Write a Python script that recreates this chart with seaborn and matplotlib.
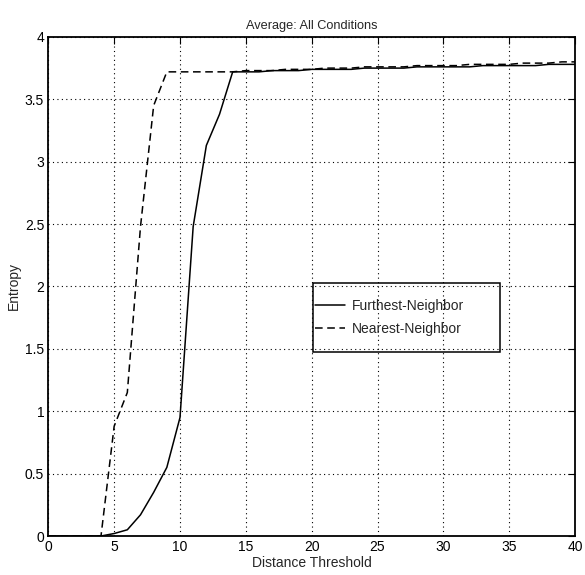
import matplotlib
matplotlib.use("Agg")
import matplotlib.pyplot as plt
from matplotlib.patches import Rectangle
import seaborn as sns
import pandas as pd

threshold = list(range(0, 41))
furthest = [0, 0, 0, 0, 0, 0.02, 0.05, 0.17, 0.35, 0.55, 0.95, 2.48, 3.13, 3.38, 3.72,
            3.72, 3.72, 3.73, 3.73, 3.73, 3.74, 3.74, 3.74, 3.74, 3.75, 3.75, 3.75,
            3.75, 3.76, 3.76, 3.76, 3.76, 3.76, 3.77, 3.77, 3.77, 3.77, 3.77, 3.78,
            3.78, 3.78]
nearest = [0, 0, 0, 0, 0, 0.88, 1.15, 2.48, 3.45, 3.72, 3.72, 3.72, 3.72, 3.72, 3.72,
           3.73, 3.73, 3.73, 3.74, 3.74, 3.74, 3.75, 3.75, 3.75, 3.76, 3.76, 3.76,
           3.76, 3.77, 3.77, 3.77, 3.77, 3.78, 3.78, 3.78, 3.78, 3.79, 3.79, 3.79,
           3.80, 3.80]
series_names = ["Furthest-Neighbor", "Nearest-Neighbor"]
xticks = [0, 5, 10, 15, 20, 25, 30, 35, 40]
yticks = [0, 0.5, 1, 1.5, 2, 2.5, 3, 3.5, 4]
ytick_labels = ["0", "0.5", "1", "1.5", "2", "2.5", "3", "3.5", "4"]

sns.set_style("white")
plt.rcParams['font.family'] = ['Liberation Sans', 'DejaVu Sans']
plt.rcParams['font.size'] = 10

df = pd.DataFrame({
    "Distance Threshold": threshold * 2,
    "Entropy": furthest + nearest,
    "Method": [series_names[0]] * len(threshold) + [series_names[1]] * len(threshold),
})

fig = plt.figure(figsize=(5.85, 5.75), dpi=100)
ax = fig.add_axes([0.0826, 0.0678, 0.9004, 0.868])

sns.lineplot(data=df, x="Distance Threshold", y="Entropy", style="Method",
             style_order=series_names, dashes={series_names[0]: "", series_names[1]: (5, 3)},
             color="black", linewidth=1.1, ax=ax, estimator=None, sort=False)

ax.set_xlim(0, 40)
ax.set_ylim(0, 4)
ax.set_xticks(xticks)
ax.set_xticklabels([str(t) for t in xticks])
ax.set_yticks(yticks)
ax.set_yticklabels(ytick_labels)
ax.grid(True, linestyle=(0, (1, 3)), color="black", linewidth=0.8)
ax.tick_params(direction="in", length=5, top=True, right=True, labelsize=10, pad=3,
               colors="black", width=0.8)
for s in ax.spines.values():
    s.set_color("black")
    s.set_linewidth(1.3)
ax.set_xlabel("Distance Threshold", fontsize=10, labelpad=1)
ax.set_ylabel("Entropy", fontsize=10, labelpad=3)
ax.set_title("Average: All Conditions", fontsize=9.2, pad=6)

leg_x0, leg_y0, leg_w, leg_h = 0.503, 0.369, 0.355, 0.138
leg = ax.legend(loc="center left", bbox_to_anchor=(leg_x0, leg_y0 + leg_h / 2),
                frameon=False, fontsize=10, handlelength=2.15, handletextpad=0.5,
                borderpad=0.15, labelspacing=0.65, borderaxespad=0)
ax.add_patch(Rectangle((leg_x0, leg_y0), leg_w, leg_h, transform=ax.transAxes,
                       fill=False, edgecolor="black", linewidth=1.1, zorder=5))

fig.savefig("out.png", dpi=100)
